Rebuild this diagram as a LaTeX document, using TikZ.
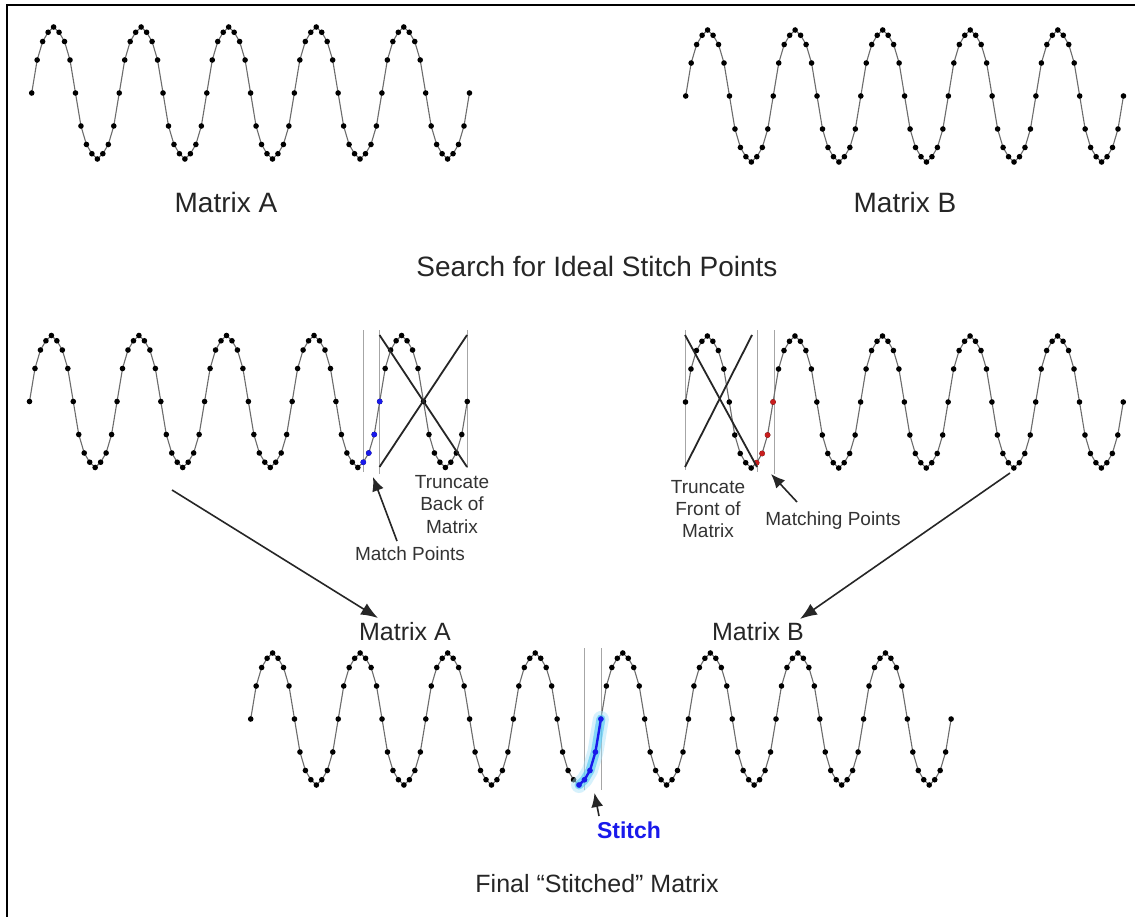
\documentclass[tikz,border=0pt]{standalone}
\usepackage{fontspec}
\setmainfont{Liberation Sans}
\usetikzlibrary{arrows.meta}
\pgfmathdeclarefunction{wf}{1}{\pgfmathparse{{0,0.5,0.78,0.92,1,0.92,0.78,0.5,0,-0.5,-0.78,-0.92,-1,-0.92,-0.78,-0.5}[int(mod(#1,16))]}}
\definecolor{stitchblue}{RGB}{25,25,235}
\definecolor{matchred}{RGB}{200,30,30}
\def\stepx{5.472}
\def\amp{66}
\def\dotr{2.8pt}
\newcommand\drawwave[3]{%
  \draw[wline] plot[variable=\i, samples at={0,...,#3}] ({#1+\i*\stepx},{#2-\amp*wf(\i)});
  \foreach \i in {0,...,#3} \fill[dotc] ({#1+\i*\stepx},{#2-\amp*wf(\i)}) circle[radius=\dotr];
}
\newcommand\colordots[5]{% x0, ymid, from, to, colour
  \foreach \i in {#3,...,#4} \fill[#5] ({#1+\i*\stepx},{#2-\amp*wf(\i)}) circle[radius=\dotr];
}
\begin{document}
\begin{tikzpicture}[x=1pt,y=-1pt,
  wline/.style={draw=gray!85!black, line width=1.1pt, line join=round},
  dotc/.style={fill=black},
  vline/.style={draw=gray!70, line width=1pt},
  xline/.style={draw=black!85, line width=1.8pt},
  bigarrow/.style={draw=black!85, line width=1.6pt, -{Latex[length=17pt,width=13pt]}},
  smallarrow/.style={draw=black!85, line width=1.6pt, -{Latex[length=14pt,width=12pt]}},
  bigtxt/.style={font=\fontsize{28}{30}\selectfont, anchor=base, inner sep=0pt, text=black!85},
  midtxt/.style={font=\fontsize{25}{27}\selectfont, anchor=base, inner sep=0pt, text=black!85},
  smalltxt/.style={font=\fontsize{19}{21}\selectfont, anchor=base, inner sep=0pt, text=black!80}]
\useasboundingbox (0,0) rectangle (1135,917);
\fill[white] (0,0) rectangle (1135,917);
% frame
\draw[line width=2pt] (7,917) -- (7,5) -- (1135,5);

% top waves
\drawwave{31.7}{93}{80}
\drawwave{685.7}{96}{80}
\node[bigtxt] (tA) at (226,213) {Matrix A};
\node[bigtxt] (tB) at (905,213) {Matrix B};
\node[bigtxt] (search) at (597,277) {Search for Ideal Stitch Points};

% middle left
\draw[vline] (363.3,330) -- (363.3,472);
\draw[vline] (379.5,330) -- (379.5,474);
\draw[vline] (467.7,330) -- (467.7,468);
\drawwave{29.5}{401.5}{80}
\colordots{29.5}{401.5}{61}{64}{stitchblue}
\draw[xline] (379.5,335) -- (467,467);
\draw[xline] (379.5,467) -- (467,335);

% middle right
\draw[vline] (685,330) -- (685,470);
\draw[vline] (757.3,330) -- (757.3,472);
\draw[vline] (774.3,330) -- (774.3,474);
\drawwave{685.5}{402}{80}
\colordots{685.5}{402}{13}{16}{matchred}
\draw[xline] (685,335) -- (757,467);
\draw[xline] (685,467) -- (752,335);

% labels in middle
\node[smalltxt] (tb1) at (452,488) {Truncate};
\node[smalltxt] (tb2) at (452,510) {Back of};
\node[smalltxt] (tb3) at (452,533) {Matrix};
\node[smalltxt] (mp) at (410,560) {Match Points};
\node[smalltxt] (tf1) at (708,493) {Truncate};
\node[smalltxt] (tf2) at (708,515) {Front of};
\node[smalltxt] (tf3) at (708,537) {Matrix};
\node[smalltxt] (mtp) at (833,525) {Matching Points};

\coordinate (mpt) at (397,541);
\coordinate (mph) at (373,477);
\draw[smallarrow] (mpt) -- (mph);
\coordinate (mtpt) at (797,502);
\coordinate (mtph) at (771,474);
\draw[smallarrow] (mtpt) -- (mtph);

% big arrows
\coordinate (la1) at (172,490);
\coordinate (la2) at (378,618);
\draw[bigarrow] (la1) -- (la2);
\coordinate (ra1) at (1010,473);
\coordinate (ra2) at (800,619);
\draw[bigarrow] (ra1) -- (ra2);

\node[midtxt] (mA) at (405,640) {Matrix A};
\node[midtxt] (mB) at (758,640) {Matrix B};

% bottom
\draw[vline] (584.3,648) -- (584.3,790);
\draw[vline] (601,648) -- (601,790);
\drawwave{250.7}{719}{128}
\draw[cyan!35, line width=16pt, opacity=0.45, line cap=round, line join=round]
  plot[variable=\i, samples at={60,...,64}] ({250.7+\i*\stepx},{719-\amp*wf(\i)});
\draw[cyan!70, line width=9pt, opacity=0.6, line cap=round, line join=round]
  plot[variable=\i, samples at={60,...,64}] ({250.7+\i*\stepx},{719-\amp*wf(\i)});
\draw[stitchblue, line width=2.4pt, line join=round]
  plot[variable=\i, samples at={60,...,64}] ({250.7+\i*\stepx},{719-\amp*wf(\i)});
\colordots{250.7}{719}{60}{64}{stitchblue}

\coordinate (stt) at (599,816);
\coordinate (sth) at (594.5,793);
\draw[smallarrow] (stt) -- (sth);
\node[font=\fontsize{23}{25}\selectfont\bfseries, text=stitchblue, anchor=base, inner sep=0pt] (stitch) at (629,838) {Stitch};
\node[midtxt] (final) at (597,892) {Final “Stitched” Matrix};
\end{tikzpicture}
\end{document}
